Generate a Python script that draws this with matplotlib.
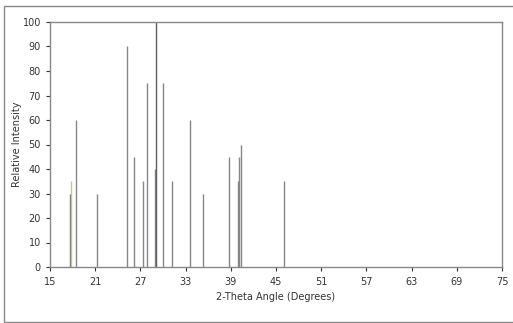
import numpy as np
import matplotlib.pyplot as plt
from matplotlib.patches import Rectangle

# peak positions (2-theta, degrees) and relative intensities
two_theta = [17.67, 17.84, 18.43, 21.23, 25.19, 26.21, 27.32, 27.82, 28.88, 29.02,
             30.05, 31.15, 33.65, 35.29, 38.81, 39.93, 40.10, 40.33, 46.11]
intensity = [30, 35, 60, 30, 90, 45, 35, 75, 40, 100,
             75, 35, 60, 30, 45, 35, 45, 50, 35]
x_ticks = [15, 21, 27, 33, 39, 45, 51, 57, 63, 69, 75]
y_ticks = [0, 10, 20, 30, 40, 50, 60, 70, 80, 90, 100]

colors = ['#85858c'] * len(two_theta)
colors[0] = '#70708a'
colors[1] = '#c8c490'
colors[9] = '#606060'

fig = plt.figure(figsize=(5.13, 3.23), dpi=100)
ax = fig.add_axes([50 / 513, 1 - 267 / 323, 452 / 513, 245 / 323])

ax.vlines(two_theta, 0, intensity, colors=colors, linewidth=1.0)

ax.set_xlim(15, 75)
ax.set_ylim(0, 100)
ax.set_xticks(x_ticks)
ax.set_yticks(y_ticks)
ax.tick_params(labelsize=7, colors='#333333', length=3, width=0.8)
ax.tick_params(axis='x', pad=4)
for s in ax.spines.values():
    s.set_color('#888888')
    s.set_linewidth(1.0)

ax.set_xlabel('2-Theta Angle (Degrees)', fontsize=7, color='#333333', labelpad=4)
ax.set_ylabel('Relative Intensity', fontsize=7, color='#333333')
ax.yaxis.set_label_coords(-0.062, 0.5)

# outer chart-area border
fig.patches.append(Rectangle((4 / 513, 1 / 323), 1.2, 1 - 7 / 323, transform=fig.transFigure,
                             fill=False, edgecolor='#888888', linewidth=1.0))

fig.savefig('out.png', dpi=100)
